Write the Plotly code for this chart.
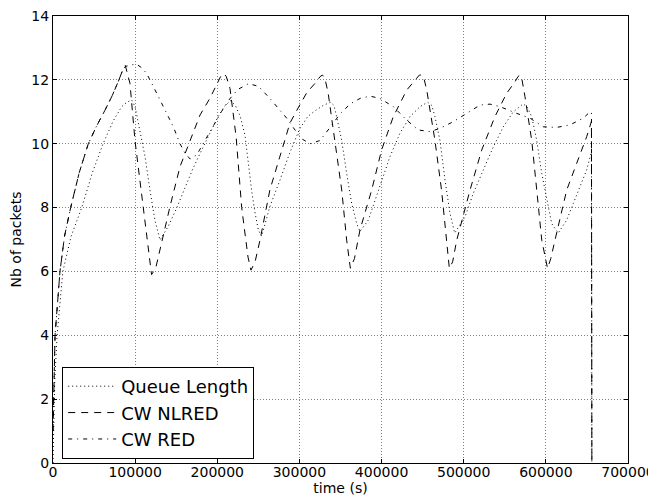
import plotly.graph_objects as go

# time (s) and values
queue_t = [0, 2000, 5000, 12000, 22000, 35000, 48000, 61000, 73000, 83600,
           90000, 95800, 100000, 103900, 108000, 112000, 118000, 124000, 130300, 140000,
           150000, 160000, 170000, 180000, 190000, 200000, 208000, 216000, 222000, 228000,
           233700, 237800, 242000, 246000, 250000, 254000, 264000, 276300, 288000, 300000,
           310000, 320000, 329000, 338000, 342000, 345300, 351500, 357500, 363600, 369700,
           373700, 383900, 392000, 400200, 410300, 422400, 434600, 446800, 456000, 461000,
           465000, 471100, 477200, 483300, 489000, 501600, 511700, 523900, 536000, 548200,
           560400, 572500, 577000, 582800, 588900, 595000, 601000, 607100, 615000, 625400,
           633400, 641600, 649700, 655500, 656000]
queue_len = [0, 2.5, 4, 6, 7.1, 8, 9.1, 10, 10.7, 11.16,
             11.3, 11.37, 11.15, 10.64, 10.15, 9.6, 8.55, 7.61, 6.98, 7.4,
             7.95, 8.6, 9.2, 9.75, 10.3, 10.8, 11.15, 11.35, 11.2, 10.85,
             10.27, 9.3, 8.5, 7.83, 7.3, 7.1, 8.03, 8.86, 9.7, 10.45,
             10.85, 11.05, 11.2, 11.3, 11.2, 10.85, 10.1, 9.07, 8.13, 7.5,
             7.25, 7.61, 8.24, 8.86, 9.6, 10.33, 10.85, 11.16, 11.3, 11.2,
             10.85, 10.1, 8.86, 7.82, 7.2, 7.71, 8.45, 9.18, 9.9, 10.53,
             11.0, 11.25, 11.15, 10.85, 10.1, 9.07, 8.24, 7.5, 7.2, 7.61,
             8.13, 8.65, 9.18, 9.75, 0]

nlred_t = [0, 2500, 8500, 14000, 21500, 32000, 43000, 53000, 63300, 72000,
           79500, 84000, 88000, 93700, 99800, 106000, 112000, 118000, 120000, 125000,
           130000, 142400, 154600, 164700, 179000, 191000, 199300, 204000, 208000, 211000,
           215500, 223000, 229700, 237400, 241000, 246000, 252000, 264000, 276000, 288500,
           299000, 309000, 321000, 325000, 328000, 331000, 335000, 343300, 351500, 357500,
           362000, 367000, 373700, 388000, 400000, 414300, 430600, 442700, 446000, 449000,
           452000, 455000, 465000, 473000, 479300, 482500, 486500, 491500, 507700, 521900,
           538000, 552300, 562400, 566000, 568500, 571000, 574600, 582800, 588900, 595000,
           602000, 606000, 611100, 625400, 637600, 649700, 655500, 656000]
cw_nlred = [1, 4, 6, 7.1, 8, 9.1, 10, 10.55, 11.05, 11.5,
            11.95, 12.25, 12.45, 11.89, 10.1, 8.86, 7.5, 6.36, 5.9, 6.1,
            6.67, 8.03, 9.28, 9.96, 10.9, 11.42, 11.89, 12.1, 12.2, 12.1,
            11.73, 10.2, 8.0, 6.45, 6.04, 6.3, 6.98, 8.55, 9.58, 10.65,
            11.15, 11.6, 11.95, 12.1, 12.15, 12.05, 11.58, 10.1, 8.55, 6.98,
            6.1, 6.4, 7.3, 8.55, 9.8, 10.85, 11.68, 12.05, 12.15, 12.15,
            12.0, 11.68, 10.1, 8.55, 6.98, 6.1, 6.3, 6.98, 8.55, 9.8,
            10.85, 11.58, 11.94, 12.1, 12.15, 12.0, 11.47, 10.1, 8.55, 6.98,
            6.1, 6.4, 6.98, 8.55, 9.39, 10.22, 10.7, 0]

red_t = [0, 2500, 8500, 14000, 21500, 32000, 43000, 53000, 63300, 72000,
         79500, 84000, 88000, 95000, 101000, 108000, 114000, 122000, 130000, 138000,
         146500, 154600, 160700, 167000, 175000, 185000, 195000, 205000, 215000, 225000,
         238000, 250000, 264000, 275000, 284500, 294600, 303000, 313000, 325000, 337000,
         350000, 362000, 374000, 386000, 398000, 414300, 430600, 444700, 459000, 471100,
         487300, 503600, 519800, 532000, 544200, 564500, 580700, 596900, 613200, 629400,
         645600, 651700, 655500, 656000]
cw_red = [1, 4, 6, 7.1, 8, 9.1, 10, 10.55, 11.05, 11.5,
          11.95, 12.25, 12.42, 12.47, 12.5, 12.38, 12.2, 11.8, 11.37, 10.95,
          10.53, 10.0, 9.7, 9.52, 9.65, 10.1, 10.55, 11.0, 11.4, 11.7,
          11.88, 11.8, 11.42, 11.1, 10.8, 10.43, 10.15, 10.0, 10.1, 10.5,
          10.95, 11.25, 11.42, 11.49, 11.42, 11.16, 10.74, 10.43, 10.38, 10.48,
          10.69, 10.95, 11.21, 11.24, 11.16, 10.95, 10.8, 10.53, 10.51, 10.59,
          10.8, 10.95, 11.0, 0]

x_ticks = [0, 100000, 200000, 300000, 400000, 500000, 600000, 700000]
y_ticks = [0, 2, 4, 6, 8, 10, 12, 14]

fig = go.Figure()
fig.add_trace(go.Scatter(x=queue_t, y=queue_len, mode='lines', name='Queue Length',
                         line=dict(color='black', width=1, dash='1px,3px')))
fig.add_trace(go.Scatter(x=nlred_t, y=cw_nlred, mode='lines', name='CW NLRED',
                         line=dict(color='black', width=1, dash='7px,6px')))
fig.add_trace(go.Scatter(x=red_t, y=cw_red, mode='lines', name='CW RED',
                         line=dict(color='black', width=1, dash='4px,5px,1px,5px')))

axis_style = dict(
    showline=True, linecolor='black', linewidth=1, mirror='ticks',
    ticks='inside', ticklen=4, tickcolor='black',
    showgrid=True, gridcolor='rgba(0,0,0,0.5)', gridwidth=1, griddash='1px,2px',
    zeroline=False, automargin=False, ticklabeloverflow='allow',
    tickfont=dict(size=14, color='black'),
)

# the page keeps an 8px body margin, so the figure is 8px smaller than the window
fig.update_layout(
    width=648, height=492,
    margin=dict(l=45, r=28, t=8, b=37),
    paper_bgcolor='white', plot_bgcolor='white',
    font=dict(family='DejaVu Sans', color='black'),
    xaxis=dict(axis_style, range=[0, 700000], tickvals=x_ticks,
               ticktext=[str(v) for v in x_ticks], ticklabelstandoff=-4,
               title=dict(text='time (s)', font=dict(size=14), standoff=0)),
    yaxis=dict(axis_style, range=[0, 14], tickvals=y_ticks,
               ticktext=[str(v) for v in y_ticks],
               title=dict(text='Nb of packets', font=dict(size=14), standoff=14)),
    legend=dict(x=0.016, y=0.009, xanchor='left', yanchor='bottom',
                bgcolor='white', bordercolor='black', borderwidth=1,
                itemwidth=48,
                font=dict(size=18, color='black')),
    showlegend=True,
)

fig.write_html("out.html")
